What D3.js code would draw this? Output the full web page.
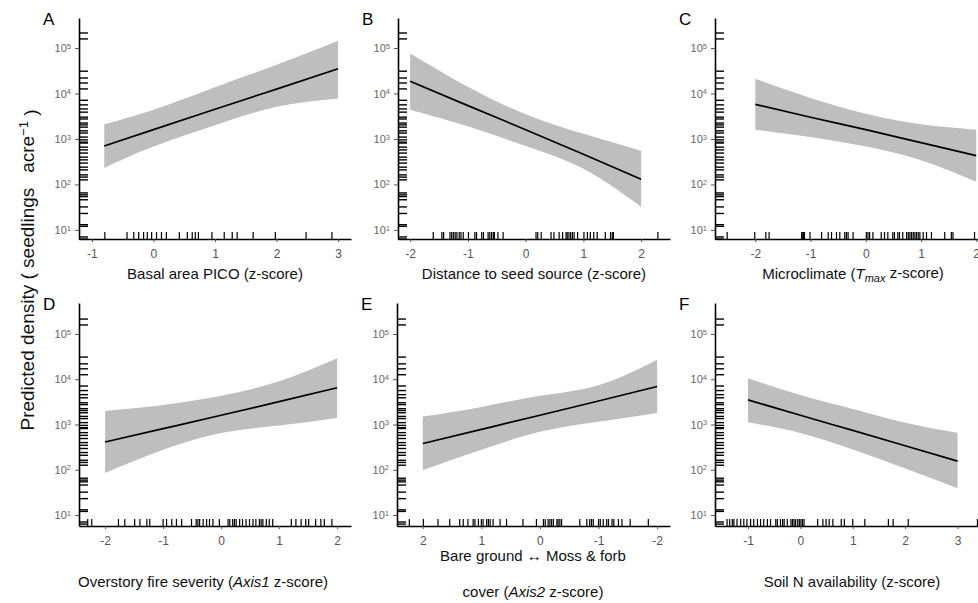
<!DOCTYPE html>
<html>
<head>
<meta charset="utf-8">
<script src="https://cdn.jsdelivr.net/npm/d3@7"></script>
<style>
  body { margin: 0; background: #fff; }
  svg { font-family: "Liberation Sans", Arial, sans-serif; }
</style>
</head>
<body>
<svg id="chart" width="978" height="603"></svg>
<script>
"use strict";

let width = 978;
let height = 603;

// observed seedling densities (left rug, same in every panel)
let yRug = [213800, 158500, 30900, 21900, 17000, 12600, 7080, 5620, 4570, 3890, 3020, 2750,
  2240, 2040, 1820, 1510, 1350, 1100, 955, 851, 813, 661, 575, 490, 398, 347, 295, 240,
  209, 162, 145, 126, 65, 59, 54, 46, 32, 23, 13, 12, 7, 6.3];

// A - basal area PICO
let xA = [-0.8, 0, 1, 2, 3];
let fitA = [700, 1600, 4500, 12500, 35000];
let loA = [230, 680, 2000, 5100, 7800];
let hiA = [2100, 4400, 13800, 43000, 145000];
let rugA = [-0.79, -0.43, -0.32, -0.24, -0.16, -0.1, -0.03, 0.05, 0.13, 0.21, 0.42, 0.55, 0.63, 0.68, 0.73,
  0.95, 1.15, 1.28, 1.36, 1.62, 1.98, 2.48, 2.9];

// B - distance to seed source
let xB = [-2, -1, 0, 1, 2];
let fitB = [18600, 5400, 1600, 460, 130];
let loB = [4400, 1900, 700, 220, 32];
let hiB = [76000, 14000, 3500, 1300, 550];
let rugB = [-1.6, -1.45, -1.42, -1.31, -1.28, -1.25, -1.22, -1.19, -1.15, -1.12, -1.08, -0.99, -0.88, -0.85,
  -0.76, -0.73, -0.65, -0.62, -0.59, -0.56, -0.54, -0.48, -0.39, 0.18, 0.21, 0.27, 0.44, 0.49, 0.58, 0.64,
  0.7, 0.72, 0.75, 0.78, 0.81, 0.84, 0.9, 1.01, 1.07, 1.12, 1.18, 1.24, 1.38, 1.47, 1.5, 1.52, 2.29];

// C - microclimate (Tmax)
let xC = [-2, -1, 0, 1, 2];
let fitC = [5750, 3000, 1600, 830, 430];
let loC = [1600, 1100, 680, 340, 115];
let hiC = [21000, 8000, 3600, 2100, 1600];
let rugC = [-2.51, -2.01, -1.81, -1.75, -1.16, -1.14, -1.13, -1.11, -1.01, -0.8, -0.68, -0.62, -0.53, -0.47,
  -0.38, -0.35, -0.32, -0.23, 0.01, 0.04, 0.07, 0.13, 0.28, 0.34, 0.4, 0.49, 0.52, 0.58, 0.61, 0.67, 0.74,
  0.77, 0.8, 0.83, 0.86, 0.89, 0.92, 0.95, 0.98, 1.04, 1.1, 1.19, 1.43, 1.55, 1.58, 1.97];

// D - overstory fire severity (Axis1)
let xD = [-2, -1, 0, 1, 2];
let fitD = [410, 810, 1600, 3200, 6500];
let loD = [85, 275, 650, 950, 1400];
let hiD = [2000, 2700, 4300, 9000, 29000];
let rugD = [-2.3, -2.23, -1.77, -1.66, -1.49, -1.4, -1.28, -1.23, -1, -0.94, -0.85, -0.77, -0.68, -0.51,
  -0.43, -0.4, -0.37, -0.31, -0.25, -0.2, -0.14, -0.03, 0.12, 0.15, 0.2, 0.23, 0.26, 0.32, 0.37, 0.43,
  0.49, 0.55, 0.6, 0.66, 0.69, 0.72, 0.78, 0.83, 0.89, 1.21, 1.29, 1.38, 1.46, 1.51, 1.63, 1.72, 1.78, 1.91];

// E - bare ground <-> moss & forb cover (Axis2, reversed)
let xE = [2, 1, 0, -1, -2];
let fitE = [380, 780, 1600, 3300, 6900];
let loE = [98, 275, 690, 1150, 1800];
let hiE = [1500, 2450, 4300, 7400, 27000];
let rugE = [2.23, 1.99, 1.74, 1.54, 1.37, 1.31, 1.23, 1.14, 1.11, 1.05, 1, 0.97, 0.91, 0.88, 0.85, 0.8,
  0.68, 0.57, 0.29, 0.06, -0.06, -0.09, -0.14, -0.17, -0.2, -0.23, -0.29, -0.31, -0.34, -0.37, -0.68,
  -0.8, -0.85, -0.88, -0.91, -1, -1.03, -1.08, -1.14, -1.17, -1.23, -1.26, -1.34, -1.4, -1.54, -1.85];

// F - soil N availability
let xF = [-1, 0, 1, 2, 3];
let fitF = [3500, 1600, 740, 340, 155];
let loF = [1120, 650, 280, 107, 39];
let hiF = [10500, 4500, 2200, 1100, 660];
let rugF = [-1.4, -1.35, -1.3, -1.27, -1.21, -1.14, -1.08, -1.02, -0.95, -0.89, -0.82, -0.76, -0.7, -0.63,
  -0.57, -0.47, -0.44, -0.38, -0.34, -0.31, -0.25, -0.18, -0.15, -0.12, -0.09, -0.05, -0.02, 0.01, 0.04,
  0.07, 0.33, 0.43, 0.49, 0.55, 0.62, 0.78, 0.84, 1, 1.23, 1.68, 1.77, 2.06, 3.38];

let yTicks = [10, 100, 1000, 10000, 100000];

// layout of the two rows of panels
let rows = [
  { top: 18, bottom: 239, domain: [Math.pow(10, 0.80), Math.pow(10, 5.66)], letterY: 25 },
  { top: 303, bottom: 526, domain: [Math.pow(10, 0.757), Math.pow(10, 5.685)], letterY: 310 }
];

let panels = [
  { letter: "A", row: 0, left: 79, right: 351, domain: [-1.21, 3.21], ticks: [-1, 0, 1, 2, 3], x: xA, fit: fitA, lo: loA, hi: hiA, rug: rugA },
  { letter: "B", row: 0, left: 398, right: 670, domain: [-2.21, 2.5], ticks: [-2, -1, 0, 1, 2], x: xB, fit: fitB, lo: loB, hi: hiB, rug: rugB },
  { letter: "C", row: 0, left: 715, right: 990, domain: [-2.73, 2.25], ticks: [-2, -1, 0, 1, 2], x: xC, fit: fitC, lo: loC, hi: hiC, rug: rugC },
  { letter: "D", row: 1, left: 79, right: 351, domain: [-2.45, 2.24], ticks: [-2, -1, 0, 1, 2], x: xD, fit: fitD, lo: loD, hi: hiD, rug: rugD },
  { letter: "E", row: 1, left: 397, right: 670, domain: [2.44, -2.22], ticks: [2, 1, 0, -1, -2], x: xE, fit: fitE, lo: loE, hi: hiE, rug: rugE },
  { letter: "F", row: 1, left: 715, right: 990, domain: [-1.63, 3.62], ticks: [-1, 0, 1, 2, 3], x: xF, fit: fitF, lo: loF, hi: hiF, rug: rugF }
];

let svg = d3.select("#chart");

panels.forEach(function(p) {
  let row = rows[p.row];
  let x = d3.scaleLinear().domain(p.domain).range([p.left, p.right]);
  let y = d3.scaleLog().domain(row.domain).range([row.bottom, row.top]);
  let g = svg.append("g").attr("class", "panel-" + p.letter);

  let pts = p.x.map((v, i) => ({ x: v, fit: p.fit[i], lo: p.lo[i], hi: p.hi[i] }));

  // confidence band
  g.append("path")
    .datum(pts)
    .attr("fill", "#bebebe")
    .attr("d", d3.area()
      .x(d => x(d.x))
      .y0(d => y(d.lo))
      .y1(d => y(d.hi))
      .curve(d3.curveNatural));

  // fitted line
  g.append("path")
    .datum(pts)
    .attr("fill", "none")
    .attr("stroke", "#000")
    .attr("stroke-width", 1.7)
    .attr("d", d3.line()
      .x(d => x(d.x))
      .y(d => y(d.fit))
      .curve(d3.curveNatural));

  // rugs
  g.selectAll(".xrug")
    .data(p.rug)
    .enter().append("line")
    .attr("x1", d => x(d)).attr("x2", d => x(d))
    .attr("y1", row.bottom).attr("y2", row.bottom - 7)
    .attr("stroke", "#000").attr("stroke-width", 1.2);

  g.selectAll(".yrug")
    .data(yRug)
    .enter().append("line")
    .attr("x1", p.left).attr("x2", p.left + 9)
    .attr("y1", d => y(d)).attr("y2", d => y(d))
    .attr("stroke", "#000").attr("stroke-width", 1.4);

  // x axis
  let xAxis = g.append("g")
    .attr("transform", `translate(0,${row.bottom})`)
    .call(d3.axisBottom(x).tickValues(p.ticks).tickSize(3).tickSizeOuter(0).tickPadding(7)
      .tickFormat(d => d < 0 ? "-" + Math.abs(d) : d));
  xAxis.select(".domain").attr("stroke", "#000").attr("stroke-width", 1.6);
  xAxis.selectAll(".tick line").attr("stroke", "#555");
  xAxis.selectAll(".tick text").attr("fill", "#555").style("font-size", "12px");

  // y axis with 10^n labels
  let yAxis = g.append("g")
    .attr("transform", `translate(${p.left},0)`)
    .call(d3.axisLeft(y).tickValues(yTicks).tickSize(4).tickSizeOuter(0).tickPadding(4).tickFormat(""));
  yAxis.select(".domain").attr("stroke", "#000").attr("stroke-width", 1.6);
  yAxis.selectAll(".tick line").attr("stroke", "#555");
  yAxis.selectAll(".tick text")
    .attr("fill", "#666")
    .style("font-size", "11px")
    .each(function(d) {
      let t = d3.select(this);
      t.append("tspan").text("10");
      t.append("tspan").attr("dy", "-0.45em").style("font-size", "7.5px").text(Math.round(Math.log10(d)));
    });

  // panel letter
  svg.append("text")
    .attr("x", p.left - 36)
    .attr("y", row.letterY)
    .style("font-size", "17px")
    .attr("fill", "#000")
    .text(p.letter);
});

// x-axis titles
function title(xc, yc, parts) {
  let t = svg.append("text")
    .attr("x", xc).attr("y", yc)
    .attr("text-anchor", "middle")
    .style("font-size", "15px")
    .attr("fill", "#111");
  parts.forEach(function(s) {
    let ts = t.append("tspan").text(s.t);
    if (s.i) ts.style("font-style", "italic");
    if (s.sub) ts.attr("dy", "0.3em").style("font-size", "11px");
    if (s.back) ts.attr("dy", "-0.3em");
  });
}

title(215, 279, [{ t: "Basal area PICO (z-score)" }]);
title(534, 279, [{ t: "Distance to seed source (z-score)" }]);
title(853, 279, [{ t: "Microclimate (" }, { t: "T", i: true }, { t: "max", i: true, sub: true }, { t: " z-score)", back: true }]);
title(203, 587, [{ t: "Overstory fire severity (" }, { t: "Axis1", i: true }, { t: " z-score)" }]);
title(533, 561, [{ t: "Bare ground \u2194 Moss & forb" }]);
title(533, 597, [{ t: "cover (" }, { t: "Axis2", i: true }, { t: " z-score)" }]);
title(852, 587, [{ t: "Soil N availability (z-score)" }]);

// shared y-axis title
let ylab = svg.append("text")
  .attr("transform", "translate(34,270) rotate(-90)")
  .attr("text-anchor", "middle")
  .style("font-size", "19px")
  .attr("fill", "#111");
ylab.append("tspan").text("Predicted density ( seedlings\u2002 acre");
ylab.append("tspan").attr("dy", "-0.5em").style("font-size", "13px").text("\u22121");
ylab.append("tspan").attr("dy", "0.5em").text(" )");
</script>
</body>
</html>
